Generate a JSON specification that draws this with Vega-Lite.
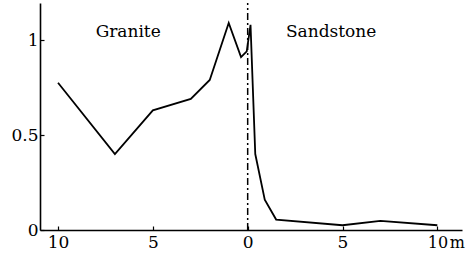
{
  "$schema": "https://vega.github.io/schema/vega-lite/v6.json",
  "width": 422,
  "height": 227,
  "autosize": "none",
  "padding": {"left": 40, "top": 3, "right": 6, "bottom": 31},
  "background": "white",
  "config": {
    "view": {"stroke": null},
    "font": "DejaVu Serif",
    "axis": {"labelFont": "DejaVu Serif", "labelFontSize": 17, "labelColor": "black"},
    "text": {"font": "DejaVu Serif"}
  },
  "datasets": {
    "profile": [
      {"x": -10, "y": 0.775},
      {"x": -7, "y": 0.40},
      {"x": -5, "y": 0.63},
      {"x": -3, "y": 0.69},
      {"x": -2, "y": 0.79},
      {"x": -1, "y": 1.09},
      {"x": -0.35, "y": 0.91},
      {"x": -0.05, "y": 0.94},
      {"x": 0.15, "y": 1.08},
      {"x": 0.4, "y": 0.40},
      {"x": 0.9, "y": 0.16},
      {"x": 1.5, "y": 0.055},
      {"x": 5, "y": 0.025},
      {"x": 7, "y": 0.048},
      {"x": 10, "y": 0.025}
    ],
    "labels": [
      {"x": -6.3, "y": 1.04, "text": "Granite"},
      {"x": 4.4, "y": 1.04, "text": "Sandstone"}
    ],
    "boundary": [
      {"x": 0, "y0": 0, "y1": 1.195}
    ]
  },
  "layer": [
    {
      "data": {"name": "boundary"},
      "mark": {"type": "rule", "color": "black", "strokeWidth": 1.5, "strokeDash": [7, 3, 2, 3]},
      "encoding": {
        "x": {"field": "x", "type": "quantitative", "scale": {"domain": [-10.95, 11.3], "nice": false, "zero": false}},
        "y": {"field": "y0", "type": "quantitative", "scale": {"domain": [0, 1.195], "nice": false}},
        "y2": {"field": "y1"}
      }
    },
    {
      "data": {"name": "profile"},
      "mark": {"type": "line", "color": "black", "strokeWidth": 1.8, "strokeJoin": "miter"},
      "encoding": {
        "x": {
          "field": "x", "type": "quantitative",
          "scale": {"domain": [-10.95, 11.3], "nice": false, "zero": false},
          "axis": {
            "title": null, "grid": false, "values": [-10, -5, 0, 5, 10],
            "domainColor": "black", "domainWidth": 1.6, "tickColor": "black", "tickSize": -4, "tickWidth": 1.2,
            "labelFont": "DejaVu Serif", "labelColor": "black", "labelPadding": 8,
            "labelExpr": "datum.value == 10 ? '10\u200am' : format(abs(datum.value), 'd')",
            "labelAlign": {"condition": {"test": "datum.value == 10", "value": "left"}, "value": "center"},
            "labelOffset": {"condition": {"test": "datum.value == 10", "value": -10}, "value": 0},
            "labelFontSize": {"condition": {"test": "datum.value == 10", "value": 16}, "value": 17}
          }
        },
        "y": {
          "field": "y", "type": "quantitative",
          "scale": {"domain": [0, 1.195], "nice": false},
          "axis": {
            "title": null, "grid": false, "values": [0, 0.5, 1],
            "domainColor": "black", "domainWidth": 1.6, "tickColor": "black", "tickSize": -4, "tickWidth": 1.2,
            "labelFont": "DejaVu Serif", "labelFontSize": 17, "labelColor": "black", "labelPadding": 6,
            "labelExpr": "datum.value == 0.5 ? '0.5' : format(datum.value, 'd')"
          }
        }
      }
    },
    {
      "data": {"name": "labels"},
      "mark": {"type": "text", "font": "DejaVu Serif", "fontSize": 17, "color": "black", "align": "center", "baseline": "middle"},
      "encoding": {
        "x": {"field": "x", "type": "quantitative"},
        "y": {"field": "y", "type": "quantitative"},
        "text": {"field": "text"}
      }
    }
  ]
}
